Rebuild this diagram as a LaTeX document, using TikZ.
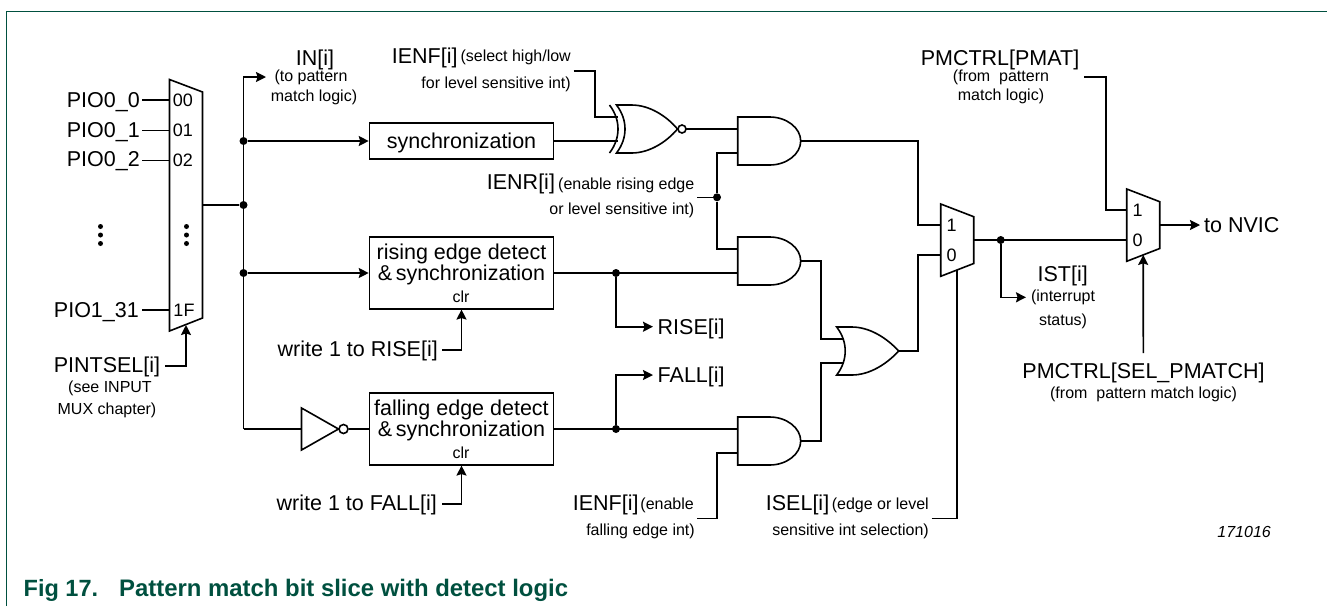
\documentclass[tikz,border=0pt]{standalone}
\usepackage{fontspec}
\setmainfont{Liberation Sans}
\usetikzlibrary{arrows.meta}
\definecolor{framegreen}{HTML}{00503F}
\tikzset{
    wire/.style={line width=1.6pt, line join=miter},
    arrowed/.style={wire, -{Stealth[length=10pt, width=10pt, inset=1.5pt]}},
    gate/.style={line width=1.6pt, line join=miter, fill=white},
    bignote/.style={font=\fontsize{21.5}{25}\selectfont, inner sep=0pt, text height=15.4pt, text depth=0pt},
    smallnote/.style={font=\fontsize{16}{19}\selectfont, inner sep=0pt},
    portnote/.style={font=\fontsize{18}{21}\selectfont, inner sep=0pt},
    logicbox/.style={draw, line width=1.6pt, inner sep=0pt, minimum width=184pt, font=\fontsize{21.5}{21}\selectfont, text height=14pt, text depth=0pt},
    captionnote/.style={anchor=west, inner sep=0pt, text=framegreen, text height=16.8pt, text depth=0pt},
    junction/.style={circle, fill=black, inner sep=0pt, minimum size=8pt},
    tinydot/.style={circle, fill=black, inner sep=0pt, minimum size=5pt},
    andgate/.pic={
        \draw[gate] (0,-24) -- (32,-24) .. controls (49,-24) and (63,-13) .. (63,0)
            .. controls (63,13) and (49,24) .. (32,24) -- (0,24) -- cycle;
        \coordinate (-a) at (0,-12);
        \coordinate (-b) at (0,12);
        \coordinate (-o) at (63,0);
    },
    orgate/.pic={
        \draw[gate] (0,-24) -- (15,-24) .. controls (33,-24) and (50,-13) .. (62,0)
            .. controls (50,13) and (33,24) .. (15,24) -- (0,24)
            .. controls (6,16) and (8.5,8) .. (8.5,0) .. controls (8.5,-8) and (6,-16) .. (0,-24) -- cycle;
        \coordinate (-a) at (7,-12);
        \coordinate (-b) at (7,12);
        \coordinate (-o) at (62,0);
    },
    xnorgate/.pic={
        \draw[gate] (0,-24) -- (15,-24) .. controls (33,-24) and (50,-13) .. (61,0)
            .. controls (50,13) and (33,24) .. (15,24) -- (0,24)
            .. controls (6,16) and (8.5,8) .. (8.5,0) .. controls (8.5,-8) and (6,-16) .. (0,-24) -- cycle;
        \draw[wire] (-7,-24) .. controls (-1,-16) and (1.5,-8) .. (1.5,0) .. controls (1.5,8) and (-1,16) .. (-7,24);
        \draw[gate] (65.5,0) circle (4);
        \coordinate (-a) at (1,-12);
        \coordinate (-b) at (1,12);
        \coordinate (-o) at (69.5,0);
    },
    muxgate/.pic={
        \draw[gate] (0,0) -- (33,12.7) -- (33,59.5) -- (0,72.3) -- cycle;
        \node[portnote] at (11,21) {1};
        \node[portnote] at (11,51) {0};
        \coordinate (-one) at (0,21);
        \coordinate (-zero) at (0,51);
        \coordinate (-o) at (33,36);
        \coordinate (-s) at (16.5,65.9);
    },
}

\begin{document}
\begin{tikzpicture}[x=1pt, y=-1pt]
    \useasboundingbox (0,0) rectangle (1327,606);
    % frame and caption
    \draw [framegreen, line width=1.3pt] (6.5,606) -- (6.5,11.5) -- (1327,11.5);
    \node [captionnote, font=\fontsize{23.5}{27}\bfseries\selectfont] (figno) at (23.5,588.3) {Fig 17.};
    \node [captionnote, font=\fontsize{23.9}{27}\bfseries\selectfont] (figtitle) at (119,588.3) {Pattern match bit slice with detect logic};
    \node [anchor=east, inner sep=0pt, font=\fontsize{16}{19}\itshape\selectfont] (figcode) at (1271,531.5) {171016};

    % input mux
    \draw [gate] (169.5,79.5) -- (202.5,92) -- (202.5,318) -- (169.5,331) -- cycle;
    \coordinate (muxout) at (202.5,205);
    \coordinate (muxsel) at (186,325);
    \coordinate (muxa) at (169.5,100);
    \coordinate (muxb) at (169.5,130.5);
    \coordinate (muxc) at (169.5,160.5);
    \coordinate (muxf) at (169.5,310);
    \node [portnote] (porta) at (183,100.5) {00};
    \node [portnote] (portb) at (183,130.5) {01};
    \node [portnote] (portc) at (183,160.5) {02};
    \node [portnote] (portf) at (184,310) {1F};
    \foreach \y in {226.5, 235, 243.5} {
        \node [tinydot] at (100.5,\y) {};
        \node [tinydot] at (186.5,\y) {};
    }
    \node [bignote, anchor=east] (pioa) at (140,99.6) {PIO0\_0};
    \node [bignote, anchor=east] (piob) at (140,129.6) {PIO0\_1};
    \node [bignote, anchor=east] (pioc) at (140,159) {PIO0\_2};
    \node [bignote, anchor=east] (piof) at (139,309.6) {PIO1\_31};
    \draw [wire] (142,100) -- (muxa);
    \draw [wire] (142,130.5) -- (muxb);
    \draw [wire] (142,160.5) -- (muxc);
    \draw [wire] (142,310) -- (muxf);
    \node [bignote] (pintsel) at (107,365) {PINTSEL[i]};
    \node [smallnote] (pintsela) at (110,388.5) {(see INPUT};
    \node [smallnote] (pintselb) at (107,410) {MUX chapter)};
    \draw [arrowed] (pintsel.east) ++(5,0.7) -| (muxsel);

    % fan out
    \node [junction] (joutmux) at (243.5,205) {};
    \node [junction] (jsync) at (243.5,141) {};
    \node [junction] (jrise) at (243.5,273) {};
    \coordinate (ctoin) at (243.5,77);
    \coordinate (cinv) at (243.5,429);
    \draw [wire] (muxout) -- (joutmux);
    \node [bignote] (innote) at (315,57.3) {IN[i]};
    \node [smallnote] (innotea) at (311,77) {(to pattern};
    \node [smallnote] (innoteb) at (314,97) {match logic)};
    \coordinate (intip) at (266,77);
    \draw [arrowed] (cinv) -- (ctoin) -- (intip);

    % detect blocks
    \node [logicbox, minimum height=36pt] (sync) at (461.5,141) {synchronization};
    \node [logicbox, minimum height=71.5pt] (risebox) at (461.5,273) {};
    \node [logicbox, minimum height=71.5pt] (fallbox) at (461.5,429) {};
    \node [bignote] (risea) at (461.5,251.6) {rising edge detect};
    \node [bignote] (riseb) at (461.5,272.3) {\&\,synchronization};
    \node [smallnote] (riseclr) at (461,297) {clr};
    \node [bignote] (falla) at (461.5,407.3) {falling edge detect};
    \node [bignote] (fallb) at (461.5,428.3) {\&\,synchronization};
    \node [smallnote] (fallclr) at (461,453) {clr};
    \draw [arrowed] (jsync) -- (sync);
    \draw [arrowed] (jrise) -- (risebox);
    \node [bignote, anchor=east] (wrrise) at (438,348.3) {write 1 to RISE[i]};
    \node [bignote, anchor=east] (wrfall) at (437,503) {write 1 to FALL[i]};
    \draw [arrowed] (wrrise.east) ++(4,1.5) -| (risebox.south);
    \draw [arrowed] (wrfall.east) ++(5,1) -| (fallbox.south);

    % inverter
    \draw [gate] (301.5,408) -- (338.5,429) -- (301.5,450) -- cycle;
    \node [draw, circle, line width=1.6pt, fill=white, inner sep=0pt, minimum size=9pt] (invdot) at (343.5,429) {};
    \draw [wire] (cinv) -- (301.5,429);
    \draw [wire] (invdot) -- (fallbox);

    % gates
    \pic (xnor) at (616.5,129) {xnorgate};
    \pic (anda) at (737.7,141) {andgate};
    \pic (andb) at (737.7,261) {andgate};
    \pic (andc) at (737.7,441) {andgate};
    \pic (orout) at (836.7,351) {orgate};
    \pic (muxi) at (940.7,204) {muxgate};
    \pic (muxp) at (1126.7,189) {muxgate};

    % xnor inputs and outputs
    \node [bignote, anchor=west] (ienfa) at (391.7,55.6) {IENF[i]};
    \node [smallnote, anchor=east] (ienfb) at (571,57) {(select high/low};
    \node [smallnote, anchor=east] (ienfc) at (571,84) {for level sensitive int)};
    \coordinate (cienf) at (573.5,70.7);
    \draw [wire] (cienf) -| (595,117) -- (xnor-a);
    \draw [wire] (sync) -- (xnor-b);
    \draw [wire] (xnor-o) -- (anda-a);

    % enable rising
    \node [bignote, anchor=west] (ienra) at (486.7,181.6) {IENR[i]};
    \node [smallnote, anchor=east] (ienrb) at (694.5,185) {(enable rising edge};
    \node [smallnote, anchor=east] (ienrc) at (694.5,210.5) {or level sensitive int)};
    \node [junction] (jienr) at (717,197.3) {};
    \coordinate (cienr) at (697.3,197.3);
    \draw [wire] (cienr) -- (jienr);
    \draw [wire] (anda-b) -| (jienr);
    \draw [wire] (andb-a) -| (jienr);

    % rise and fall outputs
    \node [junction] (jroutb) at (616,273) {};
    \node [junction] (jfoutb) at (616,429) {};
    \draw [wire] (risebox) -- (andb-b);
    \draw [wire] (fallbox) -- (andc-a);
    \node [bignote, anchor=west] (risenote) at (657.5,326.8) {RISE[i]};
    \node [bignote, anchor=west] (fallnote) at (657.5,375.1) {FALL[i]};
    \coordinate (risetip) at (653,326.7);
    \coordinate (falltip) at (653,375);
    \draw [arrowed] (jroutb) |- (risetip);
    \draw [arrowed] (jfoutb) |- (falltip);

    % enable falling
    \node [bignote, anchor=west] (ienfd) at (572.7,503) {IENF[i]};
    \node [smallnote, anchor=east] (ienfe) at (694,505.5) {(enable};
    \node [smallnote, anchor=east] (ienff) at (695,531.5) {falling edge int)};
    \coordinate (cienfl) at (697.3,518.3);
    \draw [wire] (cienfl) -| (716.7,453) -- (andc-b);

    % or gate and interrupt mux
    \draw [wire] (andb-o) -| (820.7,339) -- (orout-a);
    \draw [wire] (andc-o) -| (820.7,363) -- (orout-b);
    \draw [wire] (anda-o) -| (917.7,225) -- (muxi-one);
    \draw [wire] (orout-o) -| (917.7,255) -- (muxi-zero);
    \node [bignote, anchor=west] (isela) at (765.7,503) {ISEL[i]};
    \node [smallnote, anchor=east] (iselb) at (929,505.5) {(edge or level};
    \node [smallnote, anchor=east] (iselc) at (929,531.5) {sensitive int selection)};
    \coordinate (cisel) at (931.7,518.3);
    \draw [wire] (cisel) -| (muxi-s);

    % status and output mux
    \node [junction] (jist) at (1000.7,240) {};
    \draw [wire] (muxi-o) -- (muxp-zero);
    \node [bignote] (istnote) at (1062.7,274) {IST[i]};
    \node [smallnote] (istnotea) at (1063,297) {(interrupt};
    \node [smallnote] (istnoteb) at (1063,321) {status)};
    \coordinate (isttip) at (1026,297.3);
    \draw [arrowed] (jist) |- (isttip);
    \node [bignote] (pmat) at (1000,57.3) {PMCTRL[PMAT]};
    \node [smallnote] (pmata) at (1001,77) {(from~~pattern};
    \node [smallnote] (pmatb) at (1001,96) {match logic)};
    \coordinate (cpmat) at (1084.3,76.7);
    \draw [wire] (cpmat) -| (1105.7,210) -- (muxp-one);
    \node [bignote, anchor=west] (nvic) at (1204,224.6) {to NVIC};
    \coordinate (nvictip) at (1200,225);
    \draw [arrowed] (muxp-o) -- (nvictip);
    \node [bignote] (selpm) at (1143.5,371) {PMCTRL[SEL\_PMATCH]};
    \node [smallnote] (selpma) at (1143.5,394) {(from~~pattern match logic)};
    \coordinate (cselpm) at (1143.3,353);
    \draw [arrowed] (cselpm) -- (muxp-s);
\end{tikzpicture}
\end{document}
